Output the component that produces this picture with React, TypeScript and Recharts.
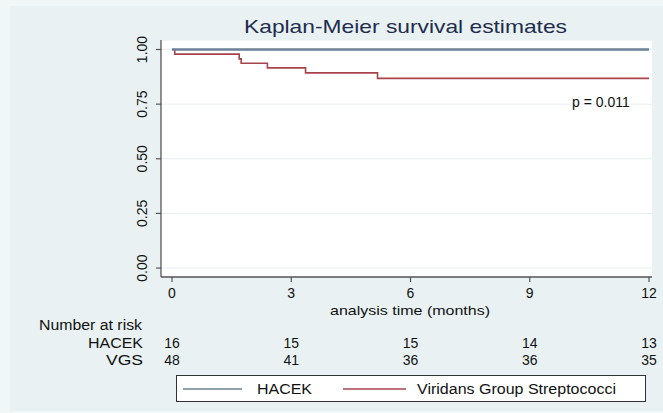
import React from 'react';
import { LineChart, Line, XAxis, YAxis, CartesianGrid, Legend } from 'recharts';

const hacekTimes = [0, 12];
const hacekSurv = [1, 1];
const vgsTimes = [0, 0.07, 1.69, 1.74, 2.4, 3.36, 5.17, 12];
const vgsSurv = [1, 0.979, 0.957, 0.937, 0.916, 0.893, 0.868, 0.868];
const xTicks = [0, 3, 6, 9, 12];
const yTicks = [0, 0.25, 0.5, 0.75, 1];
const yTickLabels = ['0.00', '0.25', '0.50', '0.75', '1.00'];
const hacekRisk = [16, 15, 15, 14, 13];
const vgsRisk = [48, 41, 36, 36, 35];
const seriesNames = ['HACEK', 'Viridans Group Streptococci'];
const rowLabels = ['HACEK', 'VGS'];

const hacekData = hacekTimes.map((t, i) => ({ t, s: hacekSurv[i] }));
const vgsData = vgsTimes.map((t, i) => ({ t, s: vgsSurv[i] }));

const FONT = '"Liberation Sans", Arial, Helvetica, sans-serif';
const HACEK_COLOR = '#6b8195';
const VGS_COLOR = '#a8434b';

const XTick = (props: any) => {
  const { x, payload } = props;
  const i = xTicks.indexOf(payload.value);
  return (
    <g fontFamily={FONT} fontSize={14} fill="#111" textAnchor="middle">
      <text x={x} y={298}>{payload.value}</text>
      <text x={x} y={348}>{hacekRisk[i]}</text>
      <text x={x} y={364.5}>{vgsRisk[i]}</text>
    </g>
  );
};

const YTick = (props: any) => {
  const { y, payload } = props;
  const i = yTicks.indexOf(payload.value);
  const bx = 147;
  return (
    <text
      x={bx}
      y={y}
      transform={`rotate(-90, ${bx}, ${y})`}
      textAnchor="middle"
      fontFamily={FONT}
      fontSize={14}
      fill="#111"
    >
      {yTickLabels[i]}
    </text>
  );
};

const LegendBox = () => (
  <svg width={470} height={27} style={{ display: 'block' }}>
    <rect x={0.5} y={0.5} width={469} height={26} fill="#fff" stroke="#333" strokeWidth={1} />
    <line x1={7} x2={66} y1={14} y2={14} stroke={HACEK_COLOR} strokeWidth={1.5} />
    <text x={81} y={19} fontFamily={FONT} fontSize={14} fill="#111" textLength={55} lengthAdjust="spacingAndGlyphs">
      {seriesNames[0]}
    </text>
    <line x1={167} x2={230} y1={14} y2={14} stroke={VGS_COLOR} strokeWidth={1.5} />
    <text x={241} y={19} fontFamily={FONT} fontSize={14} fill="#111" textLength={199} lengthAdjust="spacingAndGlyphs">
      {seriesNames[1]}
    </text>
  </svg>
);

export default function App() {
  return (
    <div style={{ position: 'absolute', left: 0, top: 0, width: 663, height: 413, background: '#f1f6f7', overflow: 'hidden' }}>
      <div style={{ position: 'absolute', left: 10, top: 6, width: 653, height: 405, background: '#e9f1f3' }} />
      <div style={{ position: 'absolute', left: 0, top: 0 }}>
        <LineChart width={663} height={413} margin={{ top: 40, right: 11, bottom: 79, left: 0 }}>
          <CartesianGrid horizontal vertical={false} fill="#ffffff" stroke="#e8eef0" strokeWidth={1} />
          <XAxis
            type="number"
            dataKey="t"
            domain={[-0.277, 12.075]}
            allowDataOverflow
            ticks={xTicks}
            height={30}
            tickSize={5}
            tick={<XTick />}
            axisLine={{ stroke: '#555', strokeWidth: 1.6 }}
            tickLine={{ stroke: '#555', strokeWidth: 1.2 }}
          />
          <YAxis
            type="number"
            dataKey="s"
            domain={[-0.041, 1.0435]}
            allowDataOverflow
            ticks={yTicks}
            width={161}
            tickSize={5}
            tick={<YTick />}
            axisLine={{ stroke: '#555', strokeWidth: 1.3 }}
            tickLine={{ stroke: '#555', strokeWidth: 1.2 }}
          />
          <Line
            data={vgsData}
            dataKey="s"
            name={seriesNames[1]}
            type="stepAfter"
            stroke={VGS_COLOR}
            strokeWidth={1.6}
            dot={false}
            isAnimationActive={false}
          />
          <Line
            data={hacekData}
            dataKey="s"
            name={seriesNames[0]}
            type="stepAfter"
            stroke={HACEK_COLOR}
            strokeWidth={2.6}
            dot={false}
            isAnimationActive={false}
          />
          <Legend
            content={<LegendBox />}
            wrapperStyle={{ position: 'absolute', left: 176, top: 375, width: 470, height: 27 }}
          />
        </LineChart>
      </div>
      <svg width={663} height={413} style={{ position: 'absolute', left: 0, top: 0, pointerEvents: 'none' }}>
        <text x={244} y={33.3} fontFamily={FONT} fontSize={19} fill="#1e2d4d" textLength={323} lengthAdjust="spacingAndGlyphs">
          Kaplan-Meier survival estimates
        </text>
        <text x={572} y={107} fontFamily={FONT} fontSize={14} fill="#111">p = 0.011</text>
        <text x={330} y={315} fontFamily={FONT} fontSize={13.5} fill="#111" textLength={160} lengthAdjust="spacingAndGlyphs">
          analysis time (months)
        </text>
        <text x={39} y={330} fontFamily={FONT} fontSize={14} fill="#111" textLength={103} lengthAdjust="spacingAndGlyphs">
          Number at risk
        </text>
        <text x={143} y={348} textAnchor="end" fontFamily={FONT} fontSize={14} fill="#111" textLength={55} lengthAdjust="spacingAndGlyphs">
          {rowLabels[0]}
        </text>
        <text x={143} y={364.5} textAnchor="end" fontFamily={FONT} fontSize={14} fill="#111" textLength={37} lengthAdjust="spacingAndGlyphs">
          {rowLabels[1]}
        </text>
      </svg>
    </div>
  );
}
